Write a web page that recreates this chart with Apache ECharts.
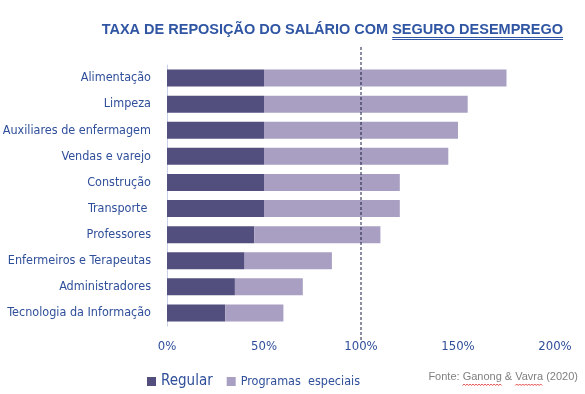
<!DOCTYPE html>
<html><head><meta charset="utf-8">
<script src="https://cdn.jsdelivr.net/npm/echarts@6/dist/echarts.min.js"></script>
<style>html,body{margin:0;padding:0;background:#fff}#c{width:585px;height:394px}</style>
</head><body><div id="c"></div>
<script>
const categories = ["Alimentação","Limpeza","Auxiliares de enfermagem","Vendas e varejo","Construção","Transporte ","Professores","Enfermeiros e Terapeutas","Administradores","Tecnologia da Informação"];
const regular = [50,50,50,50,50,50,45,40,35,30];
const especiais = [125,105,100,95,70,70,65,45,35,30];
const xTicks = [0,50,100,150,200];
const refLine = 100;

const blue = '#2f4f9a';
const chart = echarts.init(document.getElementById('c'));
const labelFont = 'DejaVu Sans Condensed';
chart.setOption({
  animation:false,
  grid:{left:167,right:30,top:65,bottom:68,outerBoundsMode:'none',containLabel:false},
  xAxis:{type:'value',min:xTicks[0],max:xTicks[xTicks.length-1],interval:50,
    axisLine:{show:false},axisTick:{show:false},splitLine:{show:false},
    axisLabel:{formatter:'{value}%',color:blue,fontFamily:labelFont,fontSize:13,margin:14}},
  yAxis:{type:'category',data:categories,inverse:true,
    axisLine:{show:true,lineStyle:{color:'#c9d1e8',width:1}},axisTick:{show:false},
    axisLabel:{color:blue,fontFamily:labelFont,fontSize:12.5,margin:16}},
  legend:{left:142,top:369,itemWidth:9,itemHeight:9,itemGap:14,icon:'rect',
    data:[{name:'Regular',textStyle:{fontSize:15,color:blue,fontFamily:labelFont}},
          {name:'Programas  especiais',textStyle:{fontSize:12.5,color:blue,fontFamily:labelFont}}]},
  series:[
    {name:'Regular',type:'bar',stack:'t',data:regular,barWidth:'65%',itemStyle:{color:'#524f7e'}},
    {name:'Programas  especiais',type:'bar',stack:'t',data:especiais,itemStyle:{color:'#a89fc3'}}
  ]
});
const x100 = chart.convertToPixel({xAxisIndex:0}, refLine);
const ctx = document.createElement('canvas').getContext('2d');
const tFont = 'bold 14.5px "Liberation Sans"';
ctx.font = tFont;
const t1 = 'TAXA DE REPOSIÇÃO DO SALÁRIO COM ', t2 = 'SEGURO DESEMPREGO';
const w1 = ctx.measureText(t1).width, w2 = ctx.measureText(t2).width;
const tx = 563 - w1 - w2;
const sFont = '11px "Liberation Sans"';
ctx.font = sFont;
const src = 'Fonte: Ganong & Vavra (2020)';
const sx = 578 - ctx.measureText(src).width;
function squiggle(a, b){
  const w = ctx.measureText(b).width, x0 = sx + ctx.measureText(a).width;
  const pts = [];
  for (let x = 0, k = 0; x <= w; x += 1.5, k++) pts.push([x0 + x, 385 + (k % 2 ? -1 : 0.5)]);
  return {type:'polyline',shape:{points:pts},style:{stroke:'#e02020',lineWidth:0.8,fill:null}};
}
const g = [
  {type:'line',shape:{x1:x100,y1:47,x2:x100,y2:340},style:{stroke:'#1a1f40',lineWidth:1,lineDash:[3,2]},z:10},
  {type:'text',left:tx,top:22,style:{text:t1,font:tFont,fill:'#2f55a3'}},
  {type:'text',left:tx+w1,top:22,style:{text:t2,font:tFont,fill:'#2f55a3'}},
  {type:'line',shape:{x1:tx+w1,y1:37.5,x2:tx+w1+w2,y2:37.5},style:{stroke:'#2f55a3',lineWidth:1}},
  {type:'line',shape:{x1:tx+w1,y1:39.5,x2:tx+w1+w2,y2:39.5},style:{stroke:'#2f55a3',lineWidth:1}},
  {type:'text',left:sx,top:371,style:{text:src,font:sFont,fill:'#7f7f7f'}},
  squiggle('Fonte: ','Ganong'),
  squiggle('Fonte: Ganong & ','Vavra')
];
chart.setOption({graphic:g});
</script></body></html>
